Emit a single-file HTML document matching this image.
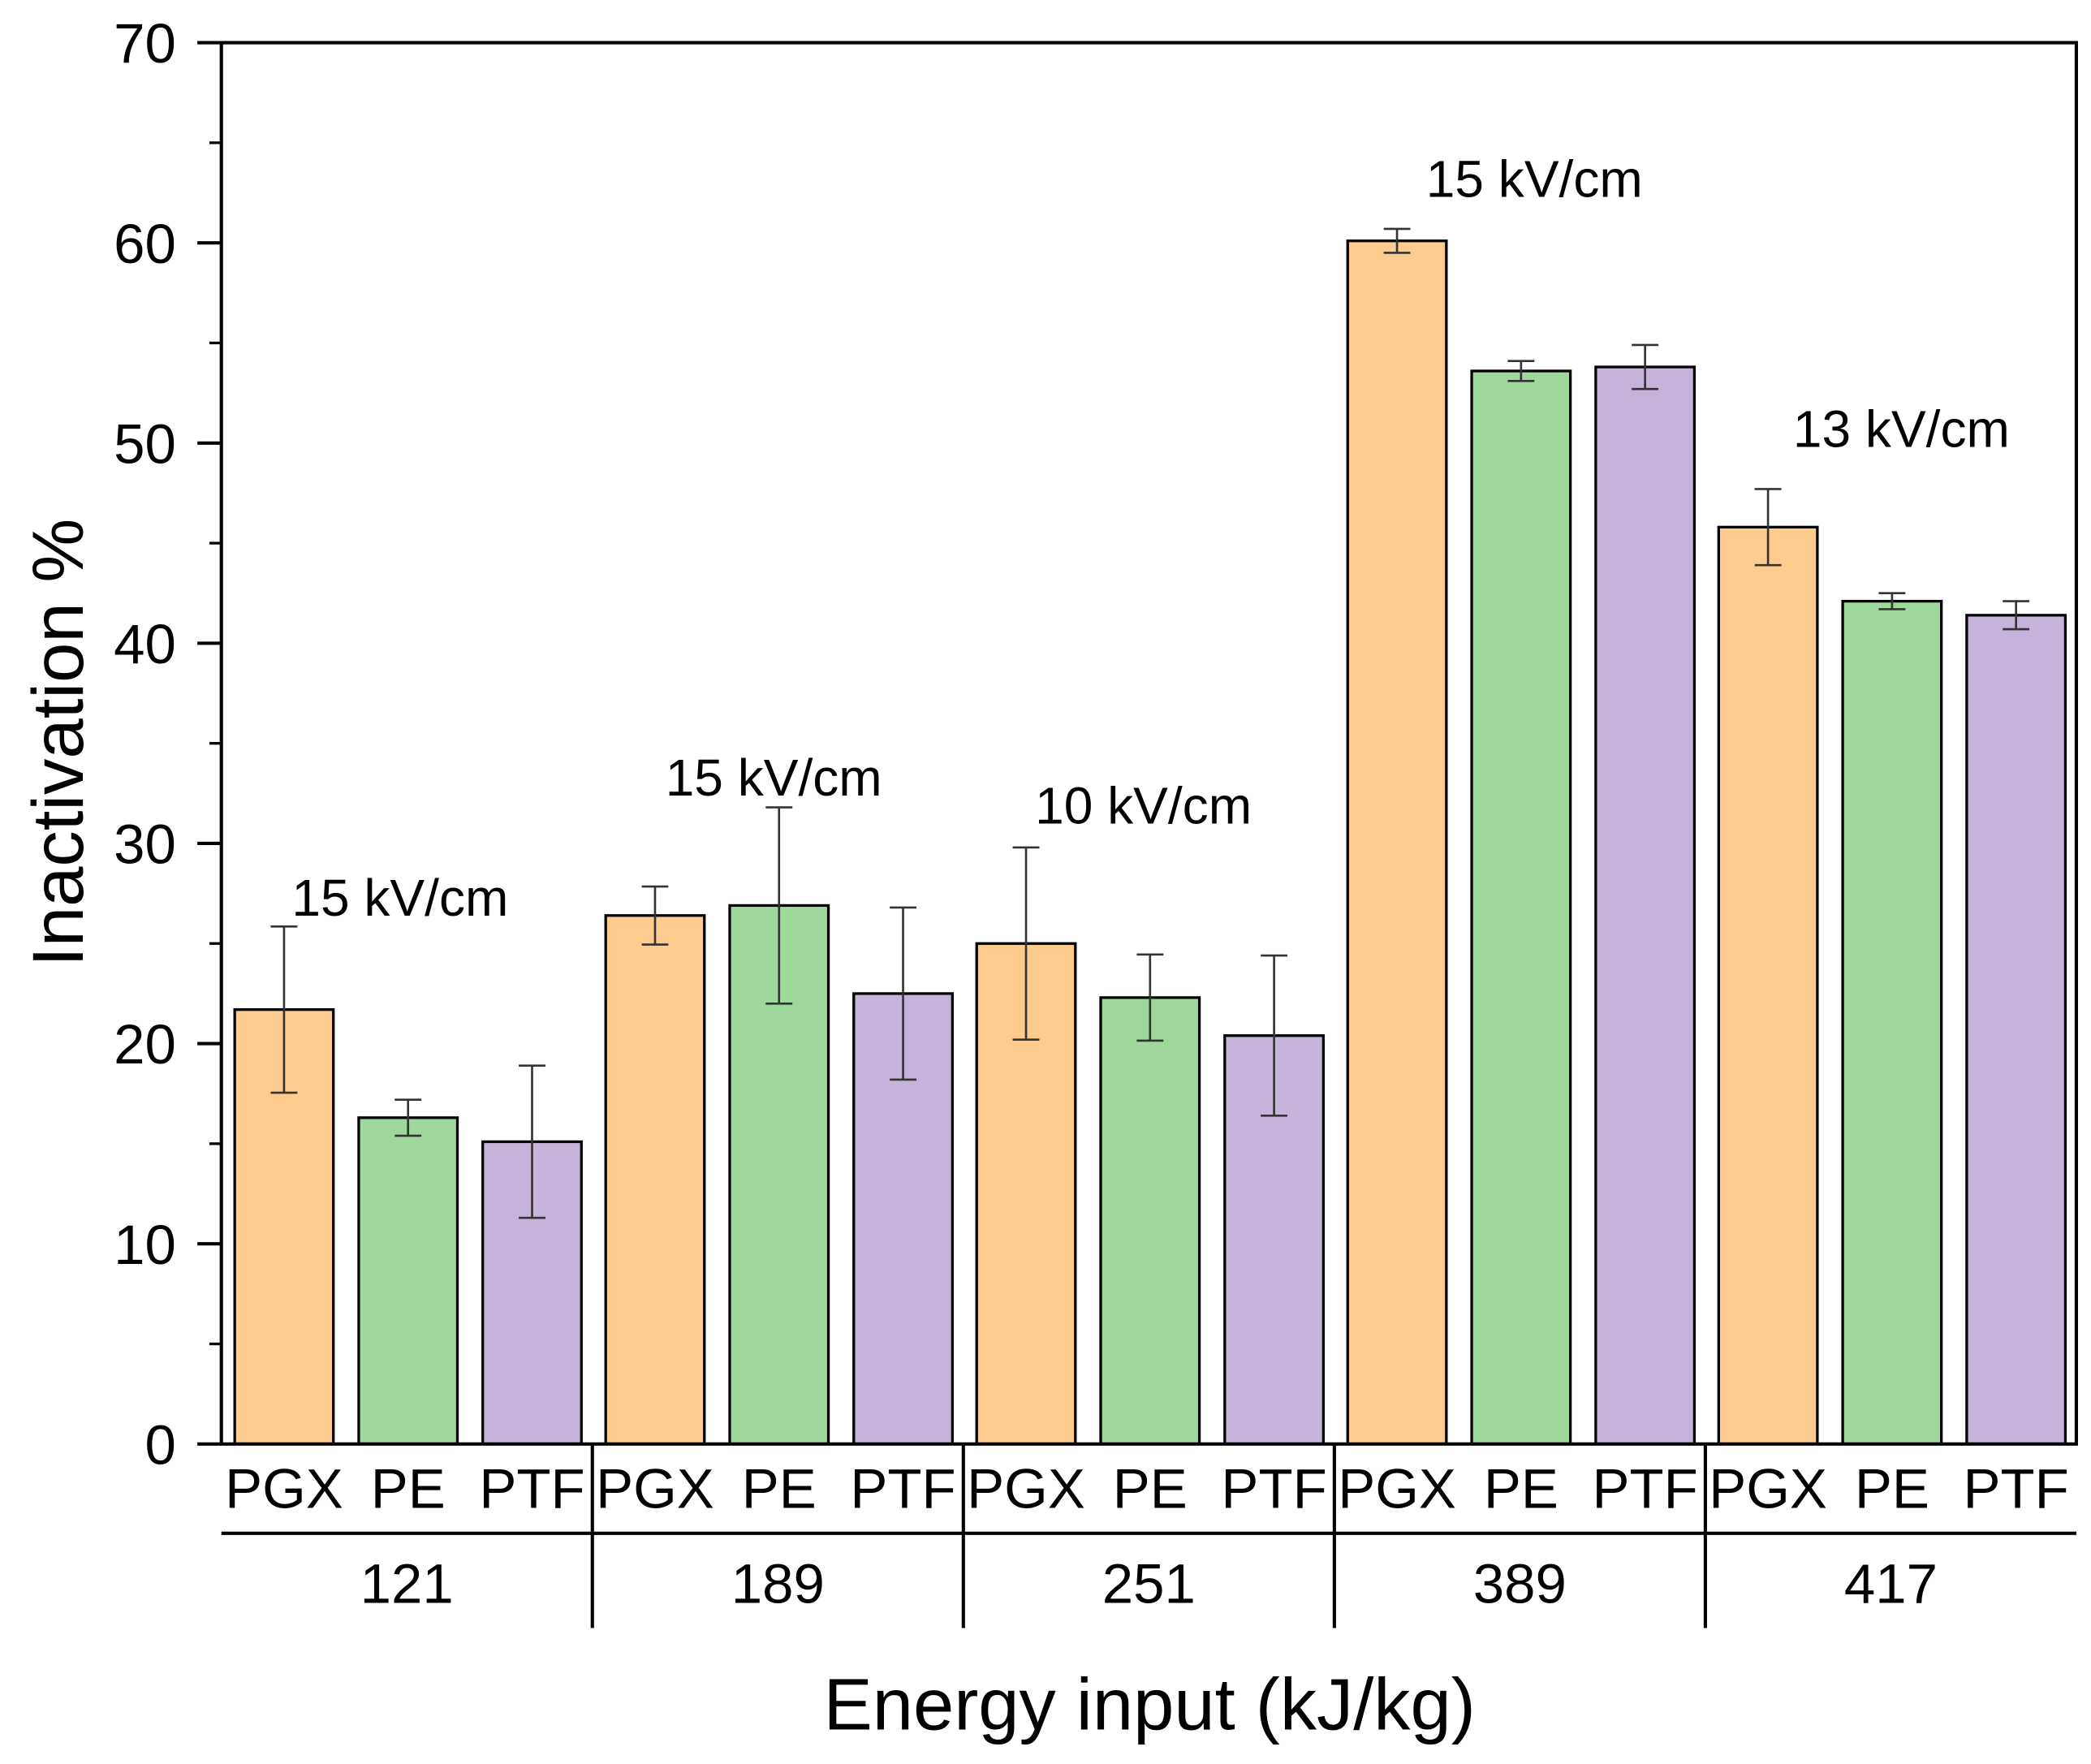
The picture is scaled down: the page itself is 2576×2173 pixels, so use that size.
<!DOCTYPE html>
<html><head><meta charset="utf-8"><style>html,body{margin:0;padding:0;background:#fff}svg{display:block}</style></head>
<body>
<svg width="2576" height="2173" viewBox="0 0 1568 1323" preserveAspectRatio="none" xmlns="http://www.w3.org/2000/svg" font-family="Liberation Sans, Arial, sans-serif">
<g id="chart"></g>
</svg>
<script>
const groups = ['121','189','251','389','417'];
const series = ['PGX','PE','PTF'];
const values = [[21.7,16.3,15.1],[26.4,26.9,22.5],[25.0,22.3,20.4],[60.1,53.6,53.8],[45.8,42.1,41.4]];
const errors = [[4.15,0.9,3.8],[1.45,4.9,4.3],[4.8,2.15,4.0],[0.6,0.5,1.1],[1.9,0.4,0.7]];
const annotations = ['15 kV/cm','15 kV/cm','10 kV/cm','15 kV/cm','13 kV/cm'];
const annotationY = [26.4,32.4,31.0,62.3,49.8];
const yTicks = [0,10,20,30,40,50,60,70];
const colors = ['#FDCB8E','#9ED89B','#C5B3D9'];

const NS='http://www.w3.org/2000/svg';
const g=document.getElementById('chart');
const L=166,R=1557,T=32,B=1083,yMax=70;
const y=v=>B-(v/yMax)*(B-T);
const gw=(R-L)/groups.length;
const bx=(gi,si)=>L+gi*gw+10+si*93;
const BW=74;
const annOff=[134,136,135,150,147];
function el(tag,attrs,text){const e=document.createElementNS(NS,tag);for(const k in attrs)e.setAttribute(k,attrs[k]);if(text!==undefined)e.textContent=text;g.appendChild(e);return e;}

values.forEach((row,gi)=>{
  row.forEach((v,si)=>{
    const x=bx(gi,si);
    const r=el('rect',{x:x,y:y(v),width:BW,height:B-y(v),fill:colors[si],stroke:'#000','stroke-width':2});
    
    
    const cx=x+BW/2,e=errors[gi][si];
    const eb=el('path',{d:`M${cx},${y(v+e)}V${y(v-e)}M${cx-10},${y(v+e)}H${cx+10}M${cx-10},${y(v-e)}H${cx+10}`,stroke:'#333','stroke-width':1.6,fill:'none'});
    
    
    const t=el('text',{x:cx,y:1131,'font-size':42,'text-anchor':'middle'},series[si]);
    
    
  });
  const a=el('text',{x:L+gi*gw+annOff[gi],y:y(annotationY[gi]),'font-size':39,'text-anchor':'middle'},annotations[gi]);
  
  
  const gl=el('text',{x:L+gi*gw+gw/2,y:1202,'font-size':42,'text-anchor':'middle'},groups[gi]);
  
  
  if(gi>0){const s=el('line',{x1:L+gi*gw,x2:L+gi*gw,y1:B,y2:1221,stroke:'#000','stroke-width':2.5});
    
    }
});
yTicks.forEach(v=>{
  const tk=el('line',{x1:148,x2:L,y1:y(v),y2:y(v),stroke:'#000','stroke-width':2.5});
  
  
  if(v<yMax){const m=el('line',{x1:157,x2:L,y1:y(v+5),y2:y(v+5),stroke:'#000','stroke-width':2});
    
    }
  const t=el('text',{x:132,y:y(v)+15,'font-size':42,'text-anchor':'end'},String(v));
  
  
});
const fr=el('rect',{x:L,y:T,width:R-L,height:B-T,fill:'none',stroke:'#000','stroke-width':2.5});


const hl=el('line',{x1:L,x2:R,y1:1150,y2:1150,stroke:'#000','stroke-width':2.5});


const xt=el('text',{x:862,y:1297,'font-size':55,'text-anchor':'middle'},'Energy input (kJ/kg)');


const yt=el('text',{x:0,y:0,'font-size':54,'text-anchor':'middle',transform:'translate(62,557) rotate(-90)'},'Inactivation %');


</script>
</body></html>
